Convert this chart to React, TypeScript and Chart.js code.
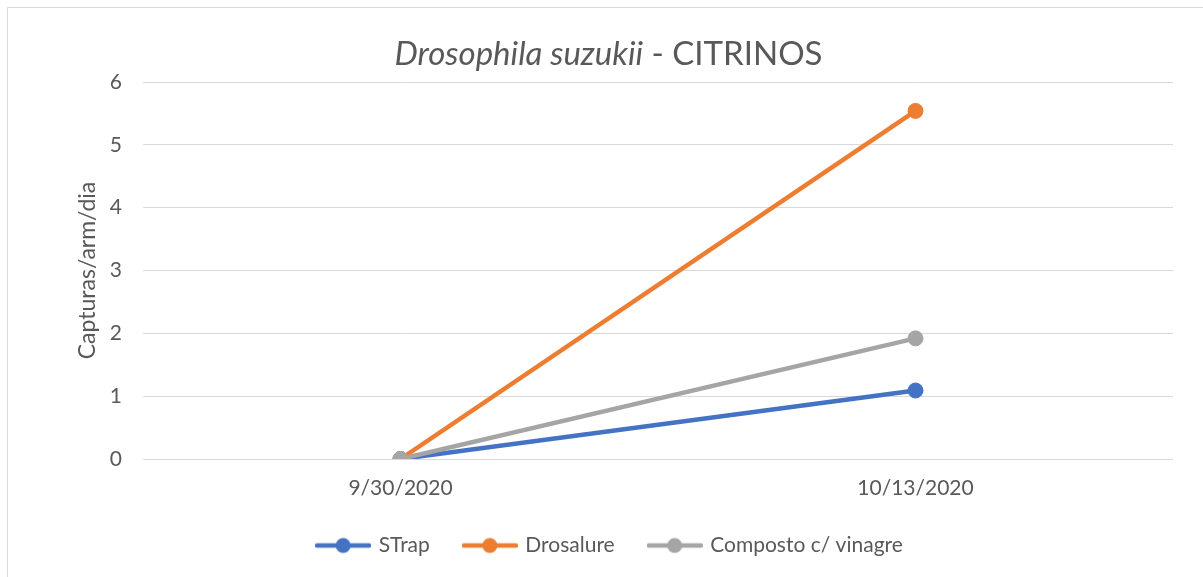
import React, { useEffect, useRef } from "react";
import { Chart, registerables } from "chart.js";

Chart.register(...registerables);

const categories = ["9/30/2020", "10/13/2020"];
const strapValues = [0, 1.09];
const drosalureValues = [0, 5.54];
const compostoValues = [0, 1.92];
const yTicks = [0, 1, 2, 3, 4, 5, 6];
const seriesNames = ["STrap", "Drosalure", "Composto c/ vinagre"];
const seriesColors = ["#4472C4", "#ED7D31", "#A5A5A5"];
const titleItalic = "Drosophila suzukii";
const titleRest = " - CITRINOS";
const yAxisTitle = "Capturas/arm/dia";

const FONT = "Lato, 'Open Sans', sans-serif";
const TEXT = "#595959";
const GRID = "#d9d9d9";

function makeLegendImage(color: string): HTMLCanvasElement {
  const c = document.createElement("canvas");
  c.width = 56;
  c.height = 18;
  const g = c.getContext("2d")!;
  g.strokeStyle = color;
  g.lineWidth = 4.5;
  g.lineCap = "round";
  g.beginPath();
  g.moveTo(2, 9);
  g.lineTo(54, 9);
  g.stroke();
  g.fillStyle = color;
  g.beginPath();
  g.arc(28, 9, 7.5, 0, Math.PI * 2);
  g.fill();
  return c;
}

const titlePlugin = {
  id: "mixedTitle",
  afterDraw(chart: any) {
    const ctx = chart.ctx as CanvasRenderingContext2D;
    ctx.save();
    const size = 33;
    ctx.font = `italic ${size}px ${FONT}`;
    const w1 = ctx.measureText(titleItalic).width;
    ctx.font = `${size}px ${FONT}`;
    const w2 = ctx.measureText(titleRest).width;
    const cx = chart.width / 2 + 3;
    const x0 = cx - (w1 + w2) / 2;
    const y = 46;
    ctx.fillStyle = TEXT;
    ctx.textBaseline = "middle";
    ctx.textAlign = "left";
    ctx.font = `italic ${size}px ${FONT}`;
    ctx.fillText(titleItalic, x0, y);
    ctx.font = `${size}px ${FONT}`;
    ctx.fillText(titleRest, x0 + w1, y);
    ctx.restore();
  },
};

export default function App() {
  const ref = useRef<HTMLCanvasElement>(null);

  useEffect(() => {
    if (!ref.current) return;
    const legendImages = seriesColors.map((c) => makeLegendImage(c));
    const values = [strapValues, drosalureValues, compostoValues];
    const chart = new Chart(ref.current, {
      type: "line",
      data: {
        labels: categories,
        datasets: seriesNames.map((name, i) => ({
          label: name,
          data: values[i],
          borderColor: seriesColors[i],
          backgroundColor: seriesColors[i],
          pointBackgroundColor: seriesColors[i],
          pointBorderColor: seriesColors[i],
          borderWidth: 4.5,
          pointRadius: 7.5,
          pointBorderWidth: 1,
          pointHoverRadius: 7.5,
          tension: 0,
          order: 3 - i,
        })),
      },
      options: {
        animation: false,
        responsive: false,
        maintainAspectRatio: false,
        layout: { padding: { left: 40, right: 30, top: 74, bottom: 11 } },
        plugins: {
          title: { display: false },
          tooltip: { enabled: false },
          legend: {
            display: true,
            position: "bottom",
            labels: {
              usePointStyle: true,
              pointStyleWidth: 50,
              padding: 35,
              color: TEXT,
              font: { family: FONT, size: 21 },
              generateLabels: (ch: any) =>
                ch.data.datasets.map((ds: any, i: number) => ({
                  text: ds.label,
                  fillStyle: ds.borderColor,
                  strokeStyle: ds.borderColor,
                  lineWidth: 0,
                  pointStyle: legendImages[i],
                  hidden: false,
                  datasetIndex: i,
                  fontColor: TEXT,
                })),
            },
          },
        },
        scales: {
          x: {
            type: "category",
            offset: true,
            grid: { display: false, drawTicks: false },
            border: { display: false },
            ticks: {
              padding: 17,
              color: TEXT,
              font: { family: FONT, size: 21 },
              maxRotation: 0,
            },
            afterFit: (s: any) => {
              s.height = 41;
            },
          },
          y: {
            min: 0,
            max: 6,
            grid: { color: GRID, lineWidth: 1, drawTicks: false },
            border: { display: false },
            ticks: {
              padding: 21,
              color: TEXT,
              font: { family: FONT, size: 21 },
            },
            afterBuildTicks: (s: any) => {
              s.ticks = yTicks.map((v) => ({ value: v }));
            },
            afterFit: (s: any) => {
              s.width = 95;
            },
            title: {
              display: true,
              text: yAxisTitle,
              color: TEXT,
              font: { family: FONT, size: 23 },
              padding: { top: 26, bottom: 0 },
            },
          },
        },
      },
      plugins: [titlePlugin],
    });
    return () => chart.destroy();
  }, []);

  return (
    <div
      style={{
        position: "fixed",
        left: 7,
        top: 7,
        width: 1196,
        height: 570,
        boxSizing: "border-box",
        borderLeft: "1px solid #d9d9d9",
        borderTop: "1px solid #d9d9d9",
        background: "#ffffff",
      }}
    >
      <canvas ref={ref} width={1195} height={569} style={{ display: "block", width: 1195, height: 569 }} />
    </div>
  );
}
